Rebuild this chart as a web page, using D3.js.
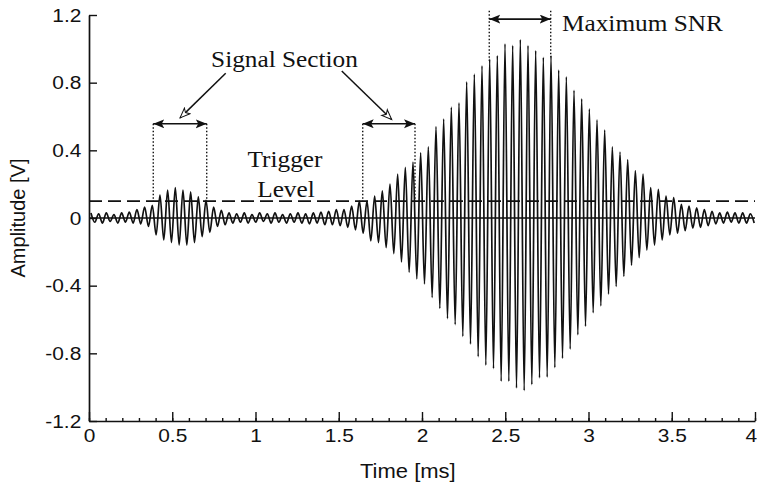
<!DOCTYPE html>
<html>
  <head>
    <script src="https://d3js.org/d3.v7.min.js"></script>
    <style>
      body { margin: 0; background: #fff; }
    </style>
  </head>
  <body>
    <div id="chart"></div>
    <script>
      // Oscillation: one peak and one trough per carrier cycle
      const firstPeak = 0.0118;   // ms, time of the first peak
      const period = 0.04605;     // ms, carrier period (about 21.7 kHz)
      const upper = [
        0.03, 0.025, 0.03, 0.02, 0.03, 0.035, 0.05, 0.065, 0.075, 0.135,
        0.165, 0.18, 0.165, 0.155, 0.125, 0.105, 0.065, 0.045, 0.03, 0.025,
        0.03, 0.02, 0.03, 0.025, 0.03, 0.02, 0.025, 0.03, 0.025, 0.03,
        0.035, 0.04, 0.05, 0.05, 0.07, 0.10, 0.10, 0.13, 0.16, 0.20,
        0.26, 0.30, 0.33, 0.385, 0.42, 0.54, 0.585, 0.655, 0.68, 0.805,
        0.85, 0.90, 0.94, 0.96, 1.03, 1.02, 1.055, 1.02, 0.99, 0.95,
        0.96, 0.875, 0.835, 0.755, 0.705, 0.645, 0.58, 0.52, 0.42, 0.39,
        0.345, 0.28, 0.26, 0.18, 0.17, 0.13, 0.12, 0.08, 0.07, 0.06,
        0.05, 0.04, 0.03, 0.035, 0.03, 0.03, 0.025
      ];
      const lower = [
        -0.025, -0.03, -0.02, -0.03, -0.025, -0.03, -0.035, -0.05, -0.10, -0.13,
        -0.145, -0.16, -0.16, -0.145, -0.11, -0.085, -0.05, -0.04, -0.03, -0.025,
        -0.03, -0.025, -0.02, -0.03, -0.025, -0.03, -0.025, -0.03, -0.035, -0.03,
        -0.04, -0.04, -0.045, -0.055, -0.07, -0.09, -0.135, -0.145, -0.175, -0.21,
        -0.26, -0.32, -0.36, -0.39, -0.47, -0.535, -0.595, -0.63, -0.70, -0.745,
        -0.82, -0.87, -0.89, -0.965, -0.965, -1.005, -1.02, -0.985, -0.945, -0.94,
        -0.885, -0.83, -0.775, -0.69, -0.64, -0.56, -0.52, -0.45, -0.405, -0.345,
        -0.28, -0.235, -0.19, -0.16, -0.13, -0.10, -0.09, -0.075, -0.06, -0.055,
        -0.045, -0.035, -0.03, -0.025, -0.03, -0.03, -0.03
      ];

      const timeTicks = [0, 0.5, 1, 1.5, 2, 2.5, 3, 3.5, 4];
      const minorTimeTicks = d3.range(0, 41).map(i => i / 10);
      const ampTicks = [-1.2, -0.8, -0.4, 0, 0.4, 0.8, 1.2];

      const triggerLevel = 0.1;                       // V
      const signalSections = [[0.386, 0.707], [1.644, 1.958]]; // ms
      const sectionArrowLevel = 0.557;                // V
      const maxSnr = [2.404, 2.773];                  // ms
      const maxSnrLevel = 1.176;                      // V
      // pointer lines from "Signal Section" [t0, v0, t1, v1]
      const pointers = [[0.821, 0.856, 0.547, 0.592], [1.518, 0.869, 1.818, 0.582]];

      const W = 757, H = 486;
      const x = d3.scaleLinear().domain([0, 4]).range([89, 755]);
      const y = d3.scaleLinear().domain([-1.2, 1.2]).range([421, 15]);

      const svg = d3.select("#chart").append("svg")
        .attr("width", W).attr("height", H);

      const defs = svg.append("defs");
      defs.append("marker")
        .attr("id", "head").attr("markerUnits", "userSpaceOnUse")
        .attr("markerWidth", 12).attr("markerHeight", 10)
        .attr("refX", 11).attr("refY", 4.5).attr("orient", "auto-start-reverse")
        .append("path").attr("d", "M0,0 L11,4.5 L0,9 L2.5,4.5 z").attr("fill", "#111");
      defs.append("marker")
        .attr("id", "open").attr("markerUnits", "userSpaceOnUse")
        .attr("markerWidth", 14).attr("markerHeight", 12)
        .attr("refX", 11).attr("refY", 5).attr("orient", "auto")
        .append("path").attr("d", "M1,1 L11,5 L1,9 L3.5,5 z")
        .attr("fill", "#fff").attr("stroke", "#111").attr("stroke-width", 1);

      // signal points
      const points = [];
      upper.forEach((u, k) => {
        points.push({ t: firstPeak + k * period, v: u });
        points.push({ t: firstPeak + (k + 0.5) * period, v: lower[k] });
      });

      const line = d3.line()
        .x(d => x(d.t))
        .y(d => y(d.v))
        .curve(d3.curveMonotoneX);

      svg.append("path")
        .datum(points)
        .attr("d", line)
        .attr("fill", "none")
        .attr("stroke", "#111")
        .attr("stroke-width", 1.7);

      // zero line and trigger level
      svg.append("line")
        .attr("x1", x(0)).attr("x2", x(4)).attr("y1", y(0)).attr("y2", y(0))
        .attr("stroke", "#111").attr("stroke-width", 1.6);
      svg.append("line")
        .attr("x1", x(0)).attr("x2", x(4)).attr("y1", y(triggerLevel)).attr("y2", y(triggerLevel))
        .attr("stroke", "#111").attr("stroke-width", 1.6)
        .attr("stroke-dasharray", "13 6");

      // axes
      const xAxis = svg.append("g")
        .attr("transform", `translate(0,${y(-1.2)})`)
        .call(d3.axisBottom(x).tickValues(timeTicks).tickSizeInner(-9).tickSizeOuter(0)
          .tickPadding(8).tickFormat(d => String(d)));
      svg.append("g")
        .attr("transform", `translate(0,${y(-1.2)})`)
        .call(d3.axisBottom(x).tickValues(minorTimeTicks).tickSizeInner(-3).tickSizeOuter(0)
          .tickFormat(""))
        .call(g => g.select(".domain").remove());
      const yAxis = svg.append("g")
        .attr("transform", `translate(${x(0)},0)`)
        .call(d3.axisLeft(y).tickValues(ampTicks).tickSizeInner(-8).tickSizeOuter(0)
          .tickPadding(7).tickFormat(d => String(d)));

      [xAxis, yAxis].forEach(g => {
        g.selectAll(".domain").attr("stroke", "#111").attr("stroke-width", 1.7);
        g.selectAll("text")
          .attr("fill", "#111")
          .style("font-family", "'Liberation Sans', Arial, sans-serif")
          .style("font-size", "19px")
          .attr("transform", "scale(1.1,1)");
      });
      svg.selectAll(".tick line").attr("stroke", "#111").attr("stroke-width", 1.4);
      // the last time label sits at the right edge of the page
      xAxis.selectAll(".tick:last-of-type text").attr("text-anchor", "end").attr("x", 1.5);

      // axis titles
      svg.append("text")
        .attr("transform", `translate(${x(1.915)},478) scale(1.1,1)`)
        .attr("text-anchor", "middle")
        .style("font-family", "'Liberation Sans', Arial, sans-serif")
        .style("font-size", "20px").attr("fill", "#111")
        .text("Time [ms]");
      svg.append("text")
        .attr("transform", `translate(25,${y(0)}) rotate(-90)`)
        .attr("text-anchor", "middle")
        .style("font-family", "'Liberation Sans', Arial, sans-serif")
        .style("font-size", "20px").attr("fill", "#111")
        .text("Amplitude [V]");

      // annotations
      const serif = "'Liberation Serif', 'Times New Roman', serif";
      const label = (t, v, anchor, txt) => svg.append("text")
        .attr("transform", `translate(${x(t)},${y(v)}) scale(1.1,1)`)
        .attr("text-anchor", anchor)
        .style("font-family", serif).style("font-size", "23px").attr("fill", "#111")
        .text(txt);
      label(1.174, 0.891, "middle", "Signal Section");
      label(1.177, 0.303, "middle", "Trigger");
      label(1.183, 0.125, "middle", "Level");
      label(2.841, 1.105, "start", "Maximum SNR");

      const dotted = (t, v0, v1) => svg.append("line")
        .attr("x1", x(t)).attr("x2", x(t)).attr("y1", y(v0)).attr("y2", y(v1))
        .attr("stroke", "#111").attr("stroke-width", 1.4).attr("stroke-dasharray", "1.5 2");
      const doubleArrow = (t0, t1, v) => svg.append("line")
        .attr("x1", x(t0)).attr("x2", x(t1)).attr("y1", y(v)).attr("y2", y(v))
        .attr("stroke", "#111").attr("stroke-width", 1.7)
        .attr("marker-start", "url(#head)").attr("marker-end", "url(#head)");

      signalSections.forEach(([t0, t1]) => {
        dotted(t0, sectionArrowLevel, triggerLevel);
        dotted(t1, sectionArrowLevel, triggerLevel);
        doubleArrow(t0, t1, sectionArrowLevel);
      });
      dotted(maxSnr[0], 1.225, 0.93);
      dotted(maxSnr[1], 1.225, 0.95);
      doubleArrow(maxSnr[0], maxSnr[1], maxSnrLevel);

      pointers.forEach(([t0, v0, t1, v1]) => {
        svg.append("line")
          .attr("x1", x(t0)).attr("y1", y(v0)).attr("x2", x(t1)).attr("y2", y(v1))
          .attr("stroke", "#111").attr("stroke-width", 1.5)
          .attr("marker-end", "url(#open)");
      });
    </script>
  </body>
</html>
